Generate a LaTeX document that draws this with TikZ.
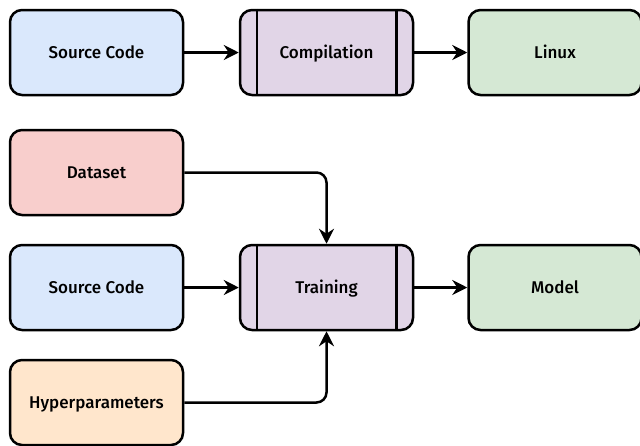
\documentclass[tikz,border=0pt]{standalone}
\usepackage{fontspec}
\setmainfont{Fira Sans}[UprightFont=* Medium]
\usetikzlibrary{arrows.meta, positioning}
\definecolor{codeblue}{HTML}{DAE8FC}
\definecolor{procpurple}{HTML}{E1D5E7}
\definecolor{outgreen}{HTML}{D5E8D4}
\definecolor{datared}{HTML}{F8CECC}
\definecolor{hyperorange}{HTML}{FFE6CC}
\tikzset{
  box/.style={draw=black, line width=2.5pt, rounded corners=12pt,
    minimum width=173pt, minimum height=85pt, inner sep=0pt,
    text height=11pt, text depth=0pt,
    font=\fontsize{17}{20}\selectfont},
  flow/.style={line width=2.5pt, rounded corners=10pt,
    -{Stealth[length=15pt, width=15pt, inset=5pt]}}
}
\begin{document}
\begin{tikzpicture}[x=1pt, y=-1pt]
        \useasboundingbox (0,0) rectangle (640,445);
        % top row
        \node[box, fill=codeblue] (src1) at (96.5,52.5) {Source Code};
        \node[box, fill=procpurple] (comp) at (326.5,52.5) {Compilation};
        \node[box, fill=outgreen] (linux) at (555,52.5) {Linux};
        \draw[line width=2.5pt] ([xshift=18pt]comp.north west) -- ([xshift=18pt]comp.south west);
        \draw[line width=2.5pt] ([xshift=-18pt]comp.north east) -- ([xshift=-18pt]comp.south east);
        \draw[flow] (src1) -- (comp);
        \draw[flow] (comp) -- (linux);
        % training
        \node[box, fill=datared] (data) at (96.5,172.5) {Dataset};
        \node[box, fill=codeblue] (src2) at (96.5,287.5) {Source Code};
        \node[box, fill=hyperorange] (hyper) at (96.5,402.5) {Hyperparameters};
        \node[box, fill=procpurple] (train) at (326.5,287.5) {Training};
        \node[box, fill=outgreen] (model) at (555,287.5) {Model};
        \draw[line width=2.5pt] ([xshift=18pt]train.north west) -- ([xshift=18pt]train.south west);
        \draw[line width=2.5pt] ([xshift=-18pt]train.north east) -- ([xshift=-18pt]train.south east);
        \draw[flow] (data.east) -| (train.north);
        \draw[flow] (src2) -- (train);
        \draw[flow] (hyper.east) -| (train.south);
        \draw[flow] (train) -- (model);
    \end{tikzpicture}
\end{document}
